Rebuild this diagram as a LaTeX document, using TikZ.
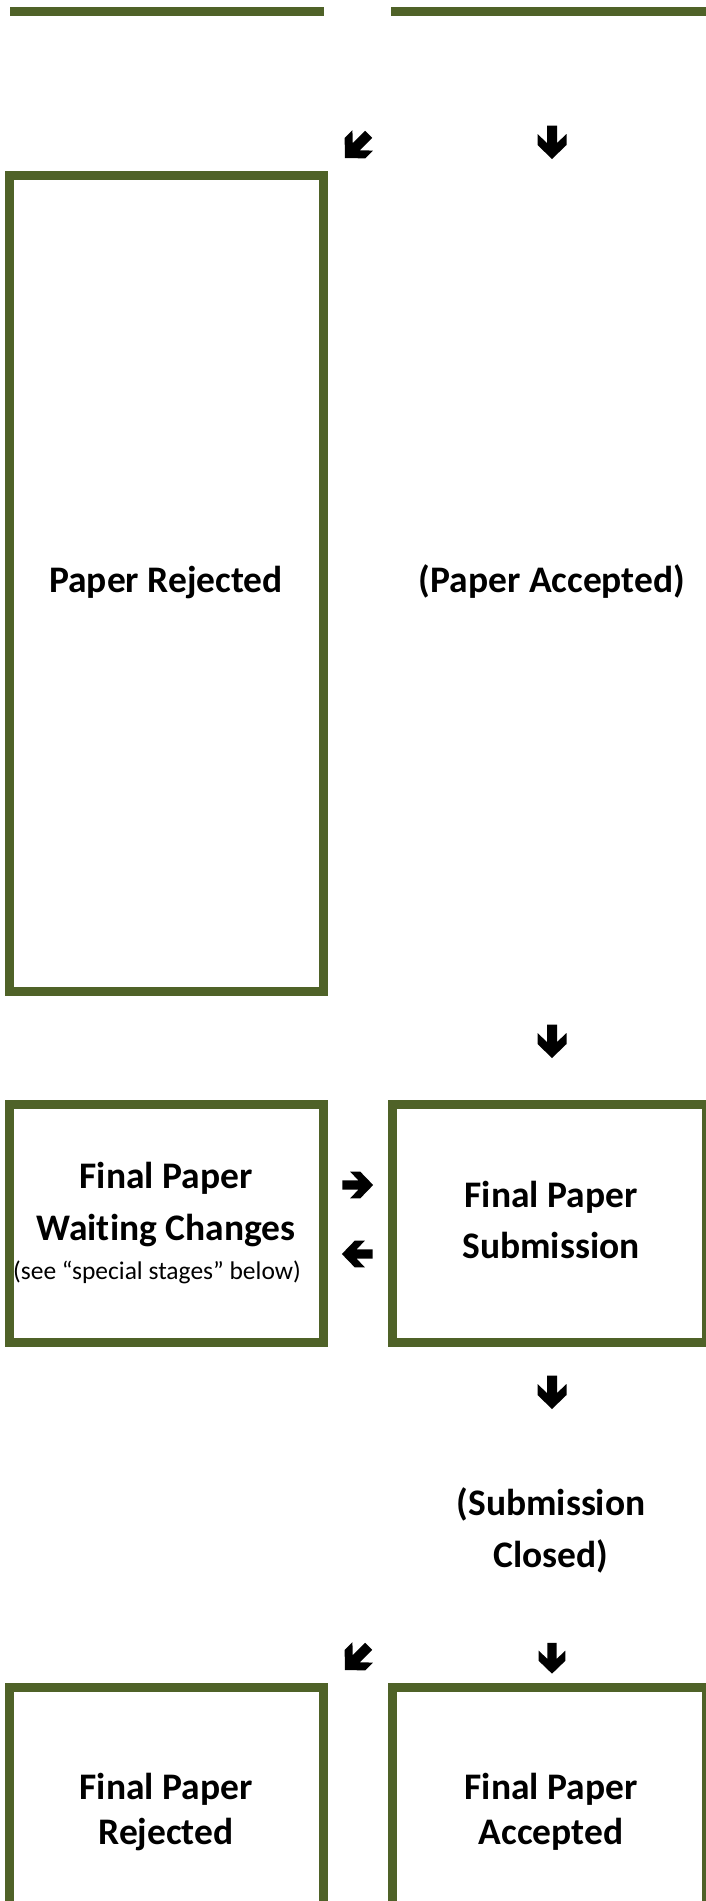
\documentclass[tikz,border=0pt]{standalone}
\usepackage{fontspec}
\setmainfont{Carlito}[RawFeature=-liga]
\definecolor{olivebox}{HTML}{4F6228}
\newcommand\flowarrow[4]{%
  \fill[black, shift={(#1,#2)}, rotate=#3, scale=#4]
    (-5,-16.5) -- (5,-16.5) -- (5,1) -- (14.5,-8) -- (14.5,3) -- (0,17)
    -- (-14.5,3) -- (-14.5,-8) -- (-5,1) -- cycle;}
\begin{document}
\begin{tikzpicture}[x=1pt,y=-1pt,
  stagebox/.style={draw=olivebox, line width=9pt, inner sep=0pt, minimum width=314pt},
  bigtxt/.style={font=\bfseries\fontsize{37.5}{40}\selectfont, anchor=base, inner sep=0pt},
  smalltxt/.style={font=\fontsize{25.5}{28}\selectfont, anchor=base, inner sep=0pt},
  bar/.style={fill=olivebox, inner sep=0pt, minimum height=9pt}]
\useasboundingbox (0,0) rectangle (706,1901);
\clip (0,0) rectangle (706,1901);
\fill[white] (0,0) rectangle (706,1901);
% top bars (bottoms of boxes above)
\node[bar, minimum width=314pt] (topL) at (167,11.5) {};
\node[bar, minimum width=320pt] (topR) at (551,11.5) {};
% boxes
\node[stagebox, minimum height=816pt] (rej) at (166.5,583.5) {};
\node[stagebox, minimum height=238pt] (wait) at (166.5,1223.5) {};
\node[stagebox, minimum height=238pt] (sub) at (549.5,1223.5) {};
\node[stagebox, minimum height=300pt] (frej) at (166.5,1837.5) {};
\node[stagebox, minimum height=300pt] (facc) at (549.5,1837.5) {};
% texts
\node[bigtxt] (trej) at (166,592) {Paper Rejected};
\node[bigtxt] (tacc) at (552,592) {(Paper Accepted)};
\node[bigtxt] (tw1) at (166,1188) {Final Paper};
\node[bigtxt] (tw2) at (166,1240) {Waiting Changes};
\node[smalltxt] (tw3) at (157,1279) {(see “special stages” below)};
\node[bigtxt] (ts1) at (551,1207) {Final Paper};
\node[bigtxt] (ts2) at (551,1258) {Submission};
\node[bigtxt] (tc1) at (551,1515) {(Submission};
\node[bigtxt] (tc2) at (551,1567) {Closed)};
\node[bigtxt] (tr1) at (166,1799) {Final Paper};
\node[bigtxt] (tr2) at (166,1844) {Rejected};
\node[bigtxt] (ta1) at (551,1799) {Final Paper};
\node[bigtxt] (ta2) at (551,1844) {Accepted};
% arrows
\flowarrow{357}{146}{-45}{1}
\flowarrow{552}{142}{0}{1}
\flowarrow{552}{1041}{0}{1}
\flowarrow{357.5}{1185}{90}{0.92}
\flowarrow{357.5}{1254}{-90}{0.92}
\flowarrow{552}{1392}{0}{1}
\flowarrow{357}{1658}{-45}{1}
\flowarrow{552}{1658}{0}{0.92}
\end{tikzpicture}
\end{document}
